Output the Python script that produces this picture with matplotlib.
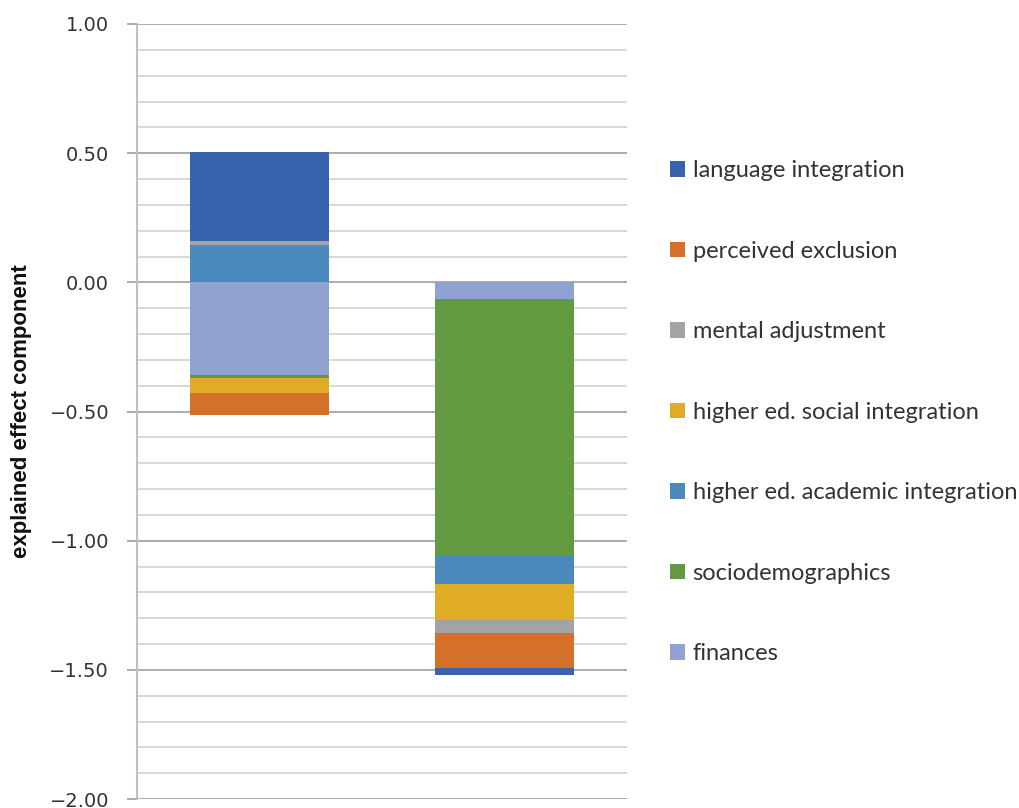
import matplotlib
matplotlib.use("Agg")
import matplotlib.pyplot as plt
import numpy as np

# series in stacking order (first = closest to zero)
series_names = [
    "finances",
    "sociodemographics",
    "higher ed. academic integration",
    "higher ed. social integration",
    "mental adjustment",
    "perceived exclusion",
    "language integration",
]
series_colors = ["#8FA2D2", "#629A40", "#4B88BC", "#E0AB25", "#A3A3A5", "#D4702A", "#3864AE"]

finances = [-0.357, -0.065]
sociodemographics = [-0.015, -0.989]
academic = [0.144, -0.115]
social = [-0.057, -0.137]
mental = [0.015, -0.050]
exclusion = [-0.084, -0.137]
language = [0.345, -0.028]

values = [finances, sociodemographics, academic, social, mental, exclusion, language]

fig = plt.figure(figsize=(10.19, 8.08), dpi=100)
ax = fig.add_axes([0.1344, 0.0111, 0.4809, 0.9592])

x = np.arange(2)
pos_base = np.zeros(2)
neg_base = np.zeros(2)
handles = []
for name, color, vals in zip(series_names, series_colors, values):
    vals = np.array(vals)
    bottoms = np.where(vals >= 0, pos_base, neg_base)
    h = ax.bar(x, vals, width=0.57, bottom=bottoms, color=color, label=name, zorder=3)
    handles.append(h)
    pos_base = pos_base + np.where(vals >= 0, vals, 0)
    neg_base = neg_base + np.where(vals < 0, vals, 0)

ax.set_xlim(-0.5, 1.5)
ax.set_ylim(-2.0, 1.0)
ax.set_yticks(np.arange(-2.0, 1.01, 0.5))
ax.set_yticks(np.arange(-2.0, 1.01, 0.1), minor=True)
ax.set_yticklabels([f"{v:.2f}".replace("-", "\u2212") for v in np.arange(-2.0, 1.01, 0.5)],
                   fontsize=14, family="DejaVu Sans", color="#333333")
ax.grid(axis="y", which="major", color="#A6A6A6", linewidth=1.3, zorder=0)
ax.grid(axis="y", which="minor", color="#D4D4D4", linewidth=1.3, zorder=0)
ax.tick_params(axis="y", which="major", length=7, width=1.3, color="#A6A6A6", pad=13)
ax.tick_params(axis="y", which="minor", length=0)
ax.set_xticks([])
for side in ["top", "right", "bottom"]:
    ax.spines[side].set_visible(False)
ax.spines["left"].set_color("#BFBFBF")
ax.spines["left"].set_linewidth(1.5)

fig.text(0.021, 0.491, "explained effect component", rotation=90, ha="center", va="center",
         fontsize=16, fontweight="bold", color="#111111",
         family=["Liberation Sans", "DejaVu Sans"])

leg = fig.legend(handles[::-1], series_names[::-1], loc="upper left",
                 bbox_to_anchor=(0.637, 0.828), frameon=False,
                 handlelength=0.64, handleheight=0.64, handletextpad=0.3,
                 labelspacing=2.52,
                 prop={"family": ["Lato", "DejaVu Sans"], "size": 17})
for t in leg.get_texts():
    t.set_color("#333333")

fig.savefig("out.png", dpi=100)
